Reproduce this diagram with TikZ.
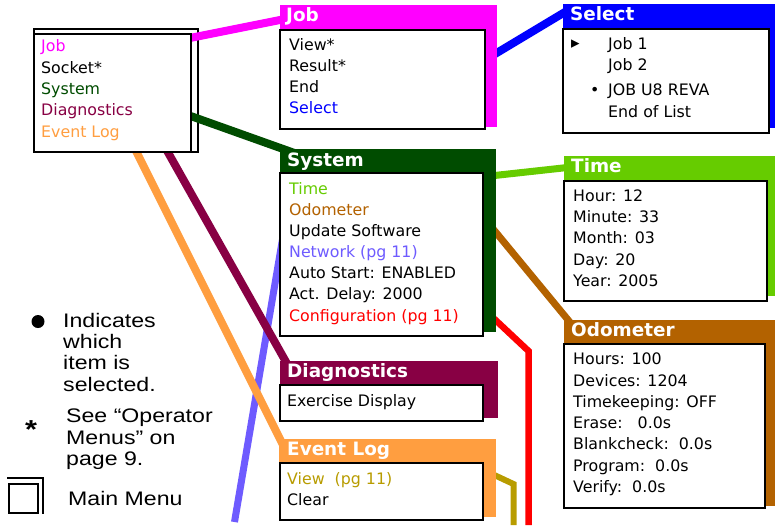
\documentclass[tikz,border=0pt]{standalone}
\usepackage{fontspec}
\setmainfont{DejaVu Sans}
\newfontfamily\legendfont[FakeStretch=1.18]{Liberation Sans}

\definecolor{jobc}{HTML}{FF00FF}
\definecolor{selc}{HTML}{0000FF}
\definecolor{sysc}{HTML}{004C00}
\definecolor{timec}{HTML}{66CC00}
\definecolor{odoc}{HTML}{B36200}
\definecolor{diagc}{HTML}{880044}
\definecolor{evc}{HTML}{FF9E40}
\definecolor{cfgc}{HTML}{FF0000}
\definecolor{netc}{HTML}{6E5BFF}
\definecolor{viewc}{HTML}{B89C00}

\tikzset{
    panel/.style={fill=#1, inner sep=0, anchor=north west},
    menubox/.style={draw, fill=white, line width=2.4pt, inner sep=0, anchor=north west},
    title/.style={text=white, font=\bfseries\fontsize{18.4}{22}\selectfont, inner sep=0, anchor=base west},
    item/.style={font=\fontsize{15.8}{19}\selectfont, inner sep=0, anchor=base west},
    legend/.style={font=\legendfont\fontsize{19.6}{23}\selectfont, inner sep=0, anchor=base west},
    wire/.style={draw=#1, line width=8pt},
}

\begin{document}
\begin{tikzpicture}[x=1pt, y=-1pt]

        \useasboundingbox (0,0) rectangle (775,525);

        % main menu, back sheet
        \node (mmback) [menubox, minimum width=164, minimum height=123] at (33,28) {};

        % connectors
        \coordinate (mmjobout) at (185,39);
        \coordinate (jobin) at (300,16);
        \coordinate (mmsysout) at (185,114);
        \coordinate (sysin) at (300,155);
        \coordinate (jobout) at (485,60);
        \coordinate (selin) at (570,9);
        \coordinate (timeout) at (490,176);
        \coordinate (timein) at (572,167);
        \coordinate (odoout) at (489,224);
        \coordinate (odoin) at (578,332);
        \coordinate (cfgout) at (488,313);
        \coordinate (cfgbend) at (528.5,351);
        \coordinate (cfgend) at (528.5,525);
        \coordinate (netout) at (282.4,240);
        \coordinate (netend) at (234.5,522);
        \coordinate (mmdiagout) at (161,140);
        \coordinate (diagin) at (290,369);
        \coordinate (mmevout) at (133,145);
        \coordinate (evin) at (287,453);
        \coordinate (viewout) at (490,473);
        \coordinate (viewbend) at (513.5,484);
        \coordinate (viewend) at (513.5,525);

        \draw[wire=jobc] (mmjobout) -- (jobin);
        \draw[wire=sysc] (mmsysout) -- (sysin);
        \draw[wire=selc] (jobout) -- (selin);
        \draw[wire=timec, line width=7pt] (timeout) -- (timein);
        \draw[wire=odoc, line width=7pt] (odoout) -- (odoin);
        \draw[wire=cfgc, line width=6.5pt] (cfgout) -- (cfgbend) -- (cfgend);
        \draw[wire=viewc, line width=6pt] (viewout) -- (viewbend) -- (viewend);
        \draw[wire=netc, line width=7pt] (netout) -- (netend);
        \draw[wire=evc] (mmevout) -- (evin);
        \draw[wire=diagc] (mmdiagout) -- (diagin);

        % main menu
        \node (mm) [menubox, minimum width=157, minimum height=118] at (33,33) {};
        \node (mjob) [item, text=jobc] at (41,51) {Job};
        \node (msocket) [item] at (41,73) {Socket*};
        \node (msys) [item, text=sysc] at (41,94) {System};
        \node (mdiag) [item, text=diagc] at (41,115) {Diagnostics};
        \node (mev) [item, text=evc] at (41,137) {Event Log};

        % job
        \node (jobpanel) [panel=jobc, minimum width=217, minimum height=122] at (280,5) {};
        \node (jobbox) [menubox, minimum width=205, minimum height=99] at (279,29) {};
        \node (jobtitle) [title] at (286,21) {Job};
        \node (jview) [item] at (289,50) {View*};
        \node (jresult) [item] at (289,71) {Result*};
        \node (jend) [item] at (289,92.5) {End};
        \node (jsel) [item, text=selc] at (289,113.5) {Select};

        % select
        \node (selpanel) [panel=selc, minimum width=213, minimum height=124] at (563,4) {};
        \node (selbox) [menubox, minimum width=206, minimum height=104] at (562,28) {};
        \node (seltitle) [title] at (570,20.5) {Select};
        \node (scursor) [item, anchor=center, font=\fontsize{17}{19}\selectfont] at (575.5,44.5) {▸};
        \node (sjob1) [item] at (608,49) {Job 1};
        \node (sjob2) [item] at (608,70) {Job 2};
        \node (sdot) [item] at (590,95) {•};
        \node (sjob3) [item] at (608,95) {JOB U8 REVA};
        \node (send) [item] at (608,117) {End of List};

        % system
        \node (syspanel) [panel=sysc, minimum width=216, minimum height=183] at (280,149) {};
        \node (sysbox) [menubox, minimum width=203, minimum height=163] at (279,172) {};
        \node (systitle) [title] at (287,166) {System};
        \node (ytime) [item, text=timec] at (289,194) {Time};
        \node (yodo) [item, text=odoc] at (289,215) {Odometer};
        \node (yupd) [item] at (289,236) {Update Software};
        \node (ynet) [item, text=netc] at (289,257) {Network (pg 11)};
        \node (yauto) [item] at (289,278) {Auto Start: ENABLED};
        \node (ydelay) [item] at (289,299) {Act. Delay: 2000};
        \node (ycfg) [item, text=cfgc] at (289,321) {Configuration (pg 11)};

        % time
        \node (timepanel) [panel=timec, minimum width=212, minimum height=140] at (564,156) {};
        \node (timebox) [menubox, minimum width=203, minimum height=120] at (563,180) {};
        \node (timetitle) [title] at (571,172) {Time};
        \node (thour) [item] at (573,201) {Hour: 12};
        \node (tmin) [item] at (573,222) {Minute: 33};
        \node (tmonth) [item] at (573,243) {Month: 03};
        \node (tday) [item] at (573,265) {Day: 20};
        \node (tyear) [item] at (573,286) {Year: 2005};

        % odometer
        \node (odopanel) [panel=odoc, minimum width=212, minimum height=186] at (564,320) {};
        \node (odobox) [menubox, minimum width=201, minimum height=164] at (563,343) {};
        \node (odotitle) [title] at (571,336) {Odometer};
        \node (ohours) [item] at (573,364) {Hours: 100};
        \node (odev) [item] at (573,386) {Devices: 1204};
        \node (otime) [item] at (573,407) {Timekeeping: OFF};
        \node (oerase) [item] at (573,428) {Erase:\ \ \ 0.0s};
        \node (oblank) [item] at (573,449) {Blankcheck:\ \ 0.0s};
        \node (oprog) [item] at (573,471) {Program:\ \ 0.0s};
        \node (over) [item] at (573,492) {Verify:\ \ 0.0s};

        % diagnostics
        \node (diagpanel) [panel=diagc, minimum width=218, minimum height=57] at (280,361) {};
        \node (diagbox) [menubox, minimum width=203, minimum height=36] at (279,384) {};
        \node (diagtitle) [title] at (287,377) {Diagnostics};
        \node (dex) [item] at (287,406) {Exercise Display};

        % event log
        \node (evpanel) [panel=evc, minimum width=217, minimum height=78] at (279,439) {};
        \node (evbox) [menubox, minimum width=203, minimum height=57] at (279,462) {};
        \node (evtitle) [title] at (287,455) {Event Log};
        \node (eview) [item, text=viewc] at (287,484) {View\ \ (pg 11)};
        \node (eclear) [item] at (287,505) {Clear};

        % legend
        \node (legdot) [circle, fill, minimum size=13, inner sep=0] at (38,321.5) {};
        \node (leg1) [legend] at (63,327) {Indicates};
        \node (leg2) [legend] at (63,348.3) {which};
        \node (leg3) [legend] at (63,369.7) {item is};
        \node (leg4) [legend] at (63,391) {selected.};
        \node (legstar) [legend, anchor=center, font=\legendfont\bfseries\fontsize{26}{28}\selectfont] at (31,429.6) {*};
        \node (leg5) [legend] at (66,422.7) {See “Operator};
        \node (leg6) [legend] at (66,444) {Menus” on};
        \node (leg7) [legend] at (66,465.5) {page 9.};
        \draw[line width=2.2pt] (7,478) -- (43,478) -- (43,514);
        \node (legicon) [draw, line width=2.2pt, inner sep=0, minimum size=29, anchor=north west] at (8,483) {};
        \node (leg8) [legend] at (68,505) {Main Menu};

\end{tikzpicture}
\end{document}
